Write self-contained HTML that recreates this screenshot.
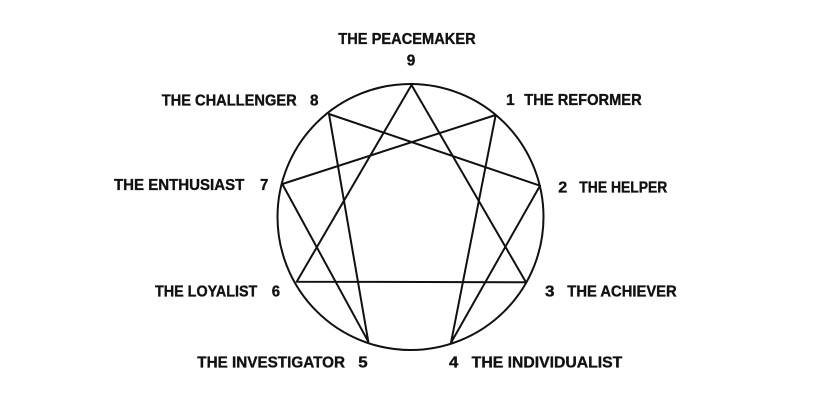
<!DOCTYPE html>
<html>
<head>
<meta charset="utf-8">
<style>
  html, body { margin: 0; padding: 0; background: #ffffff; }
  body { width: 822px; height: 408px; overflow: hidden; }
  svg { display: block; }
  text { font-family: "Liberation Sans", "DejaVu Sans", sans-serif; font-weight: bold; font-size: 15.5px; fill: #111; stroke: #111; stroke-width: 0.35px; }
</style>
</head>
<body>
<svg width="822" height="408" viewBox="0 0 822 408" xmlns="http://www.w3.org/2000/svg">
  <rect width="822" height="408" fill="#fff"/>
  <g fill="none" stroke="#111" stroke-width="2" stroke-linejoin="round">
    <circle cx="410.5" cy="217" r="133"/>
    <!-- triangle 9-3-6 -->
    <polygon points="411.5,85 526,282.3 296.7,281.7"/>
    <!-- hexad 1-4-2-8-5-7-1 -->
    <polygon points="495.7,115 451,342.7 540,185.7 329,114 368.3,341.7 282.3,184"/>
  </g>

  <!-- labels -->
  <text x="338.3" y="44" textLength="137.4" lengthAdjust="spacingAndGlyphs">THE PEACEMAKER</text>
  <text x="406.7" y="65.7" textLength="8.5" lengthAdjust="spacingAndGlyphs">9</text>

  <text x="161.7" y="105.3" textLength="135" lengthAdjust="spacingAndGlyphs">THE CHALLENGER</text>
  <text x="310" y="105.3" textLength="8.5" lengthAdjust="spacingAndGlyphs">8</text>

  <text x="506" y="105">1</text>
  <text x="524.3" y="105" textLength="117.4" lengthAdjust="spacingAndGlyphs">THE REFORMER</text>

  <text x="114" y="190" textLength="130.3" lengthAdjust="spacingAndGlyphs">THE ENTHUSIAST</text>
  <text x="260" y="190" textLength="8.3" lengthAdjust="spacingAndGlyphs">7</text>

  <text x="558.3" y="192.7" textLength="9" lengthAdjust="spacingAndGlyphs">2</text>
  <text x="579.3" y="192.7" textLength="88" lengthAdjust="spacingAndGlyphs">THE HELPER</text>

  <text x="155" y="296.7" textLength="102.3" lengthAdjust="spacingAndGlyphs">THE LOYALIST</text>
  <text x="271.7" y="296.7" textLength="8.3" lengthAdjust="spacingAndGlyphs">6</text>

  <text x="545" y="296.7" textLength="9.5" lengthAdjust="spacingAndGlyphs">3</text>
  <text x="567.3" y="296.7" textLength="109.4" lengthAdjust="spacingAndGlyphs">THE ACHIEVER</text>

  <text x="197.3" y="367.3" textLength="147.7" lengthAdjust="spacingAndGlyphs">THE INVESTIGATOR</text>
  <text x="358.3" y="367.3" textLength="9.4" lengthAdjust="spacingAndGlyphs">5</text>

  <text x="449" y="367.3" textLength="9.3" lengthAdjust="spacingAndGlyphs">4</text>
  <text x="471.7" y="367.3" textLength="150.6" lengthAdjust="spacingAndGlyphs">THE INDIVIDUALIST</text>
</svg>
</body>
</html>
